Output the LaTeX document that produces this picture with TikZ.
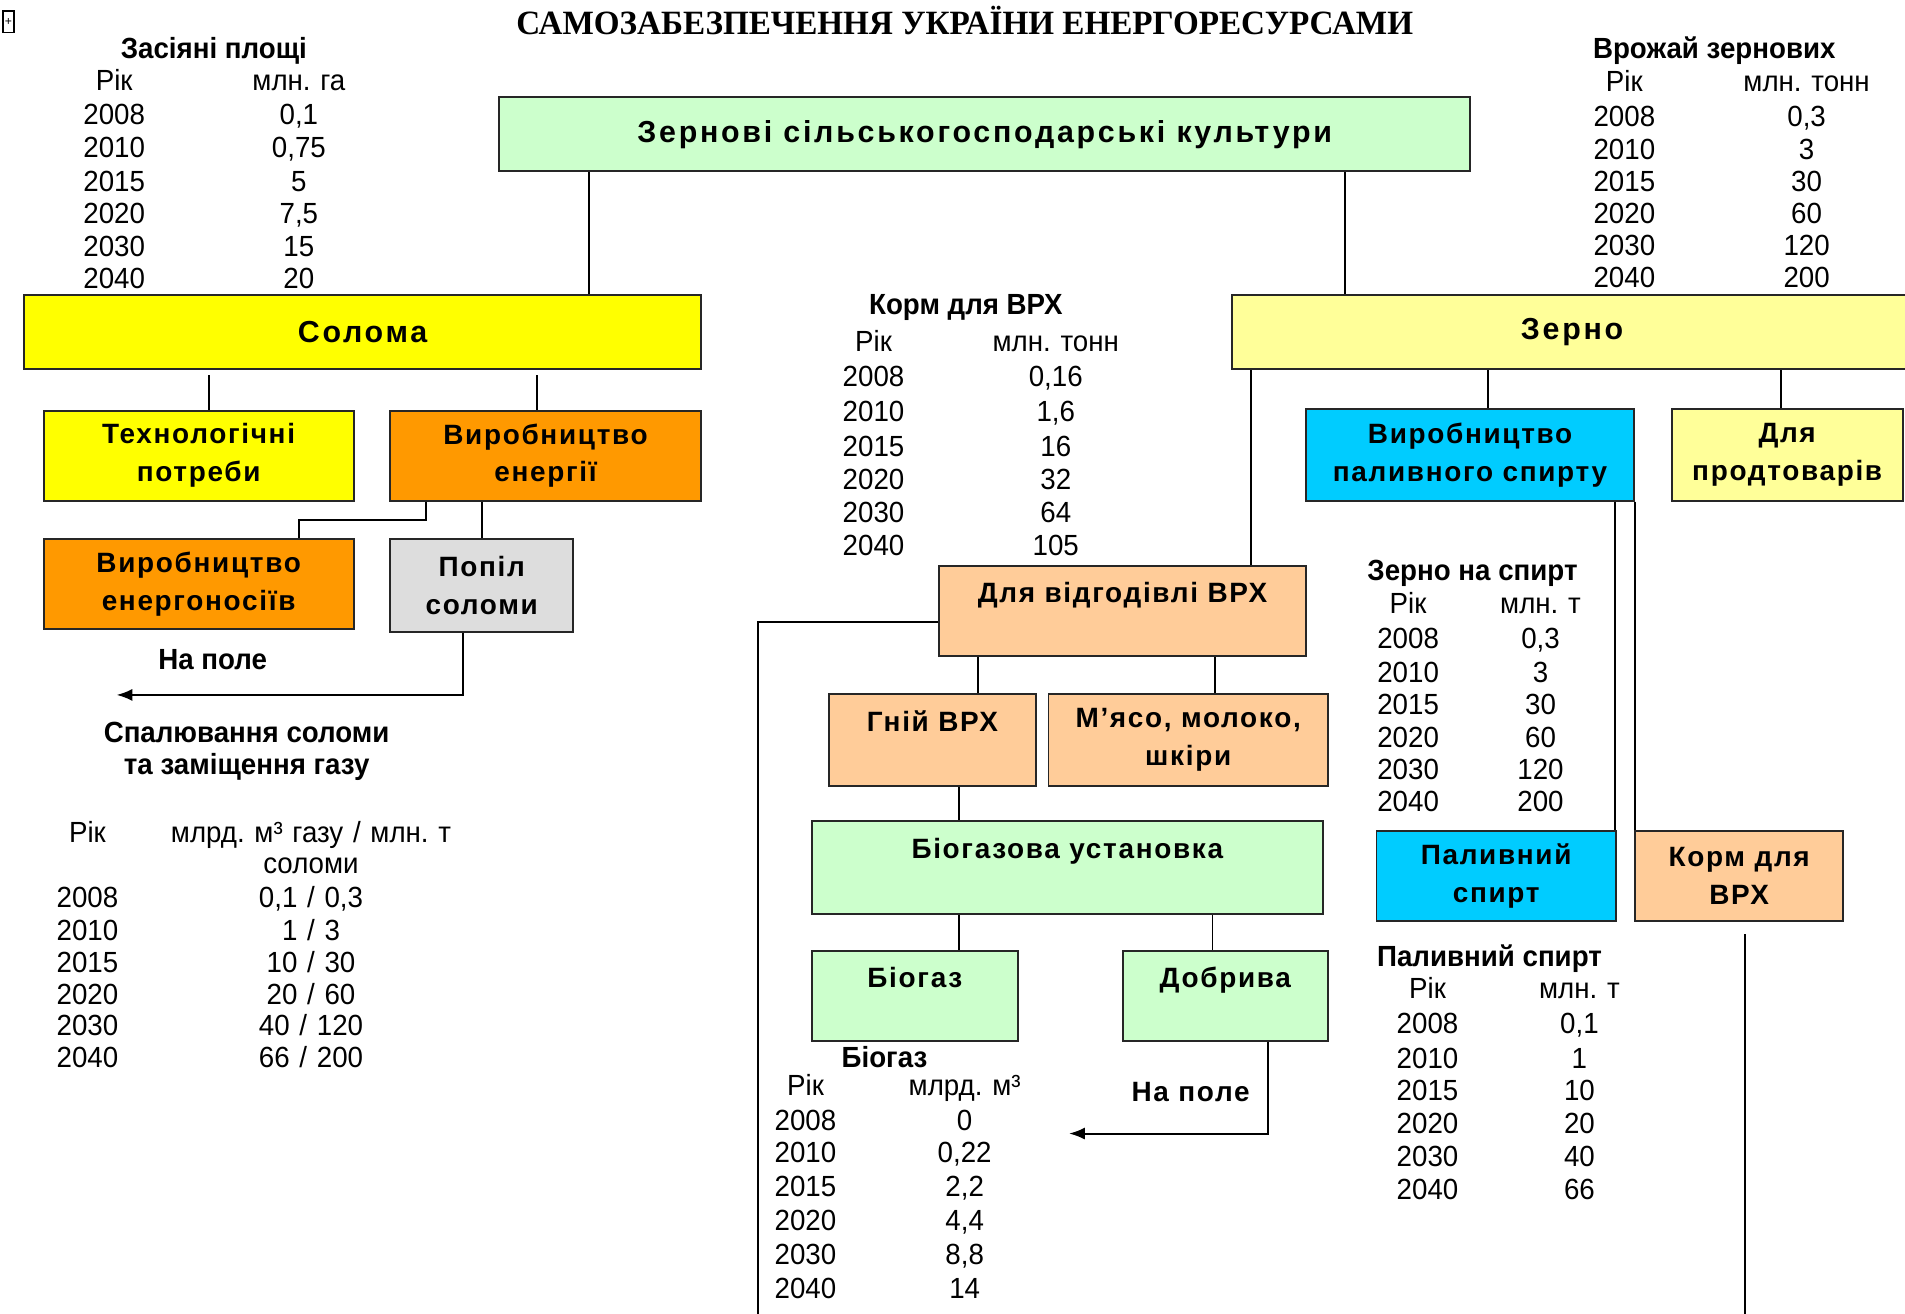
\documentclass[tikz,border=0pt]{standalone}
\usepackage{fontspec}
\setmainfont{Liberation Sans}
\newfontfamily\boxfamily[LetterSpace=6]{Liberation Sans}
\newfontfamily\widefamily[LetterSpace=9]{Liberation Sans}
\newfontfamily\tabfamily[FakeStretch=0.95]{Liberation Sans}
\newfontfamily\titlefamily[FakeStretch=0.975]{Liberation Serif}
\usetikzlibrary{matrix,arrows.meta}

\definecolor{lgreen}{HTML}{CCFFCC}
\definecolor{lyellow}{HTML}{FFFF99}
\definecolor{byellow}{HTML}{FFFF00}
\definecolor{energyorange}{HTML}{FF9900}
\definecolor{peach}{HTML}{FFCC99}
\definecolor{skyblue}{HTML}{00CCFF}
\definecolor{ashgray}{HTML}{DDDDDD}

\tikzset{
  box/.style={draw=black!85, line width=1.6pt, inner sep=0pt, align=center,
    font=\boxfamily\bfseries\fontsize{23}{31}\selectfont},
  widebox/.style={box, font=\widefamily\bfseries\fontsize{25}{31}\selectfont},
  tabcell/.style={inner sep=0pt, text width=100pt, align=center, minimum height=26pt,
    font=\tabfamily\fontsize{24}{26}\selectfont},
  tab/.style={matrix of nodes, nodes={tabcell}, row sep=0pt},
  tabtitle/.style={inner sep=0pt, align=center,
    font=\tabfamily\bfseries\fontsize{24}{27}\selectfont},
  link/.style={line width=1.6pt},
}

\begin{document}
\frenchspacing
\begin{tikzpicture}[x=1pt, y=-1pt, >={Latex[length=13pt,width=10pt]}]
  \fill[white] (0,0) rectangle (1568,1081);
  \useasboundingbox (0,0) rectangle (1568,1081);

  \node[draw, line width=1pt, minimum width=9pt, minimum height=18pt, inner sep=0pt,
    font=\fontsize{10}{10}\selectfont] (icon) at (7,18) {+};
  \node[font=\titlefamily\bfseries\fontsize{28}{32}\selectfont] (title) at (794,17)
    {САМОЗАБЕЗПЕЧЕННЯ УКРАЇНИ ЕНЕРГОРЕСУРСАМИ};

  % boxes
  \node[widebox, fill=lgreen, minimum width=799pt, minimum height=61pt] (crops) at (810.5,110.5)
    {Зернові сільськогосподарські культури};
  \node[widebox, fill=byellow, minimum width=557pt, minimum height=61pt] (straw) at (298.5,273.5) {Солома};
  \node[widebox, fill=lyellow, minimum width=560pt, minimum height=61pt] (grain) at (1294,273.5) {Зерно};

  \node[box, fill=byellow, minimum width=255pt, minimum height=74pt] (tech) at (163.5,375)
    {Технологічні\\потреби};
  \node[box, fill=energyorange, minimum width=256pt, minimum height=74pt] (energy) at (449,375)
    {Виробництво\\енергії};
  \node[box, fill=energyorange, minimum width=255pt, minimum height=74pt] (carriers) at (163.5,481)
    {Виробництво\\енергоносіїв};
  \node[box, fill=ashgray, minimum width=151pt, minimum height=76pt] (ash) at (396.5,482)
    {Попіл\\соломи};

  \node[box, fill=skyblue, minimum width=270pt, minimum height=75pt] (spiritprod) at (1210,374.5)
    {Виробництво\\паливного спирту};
  \node[box, fill=lyellow, minimum width=190pt, minimum height=75pt] (food) at (1471,374.5)
    {Для\\продтоварів};
  \node[box, fill=peach, minimum width=302pt, minimum height=74pt] (fattening) at (924,503)
    {Для відгодівлі ВРХ\\\mbox{}};
  \node[box, fill=peach, minimum width=171pt, minimum height=76pt] (manure) at (767.5,609)
    {Гній ВРХ\\\mbox{}};
  \node[box, fill=peach, minimum width=230pt, minimum height=76pt] (meat) at (978,609)
    {М’ясо, молоко,\\шкіри};
  \node[box, fill=lgreen, minimum width=421pt, minimum height=76pt] (plant) at (878.5,714)
    {Біогазова установка\\\mbox{}};
  \node[box, fill=lgreen, minimum width=170pt, minimum height=74pt] (biogas) at (753,820)
    {Біогаз\\\mbox{}};
  \node[box, fill=lgreen, minimum width=169pt, minimum height=74pt] (fertilizer) at (1008.5,820)
    {Добрива\\\mbox{}};
  \node[box, fill=skyblue, minimum width=197pt, minimum height=74pt] (fuel) at (1231.5,721)
    {Паливний\\спирт};
  \node[box, fill=peach, minimum width=171pt, minimum height=74pt] (feed) at (1431.5,721)
    {Корм для\\ВРХ};

  % drop points
  \coordinate (toStraw) at (485,0);
  \coordinate (toGrain) at (1107,0);
  \coordinate (toTech) at (172,0);
  \coordinate (toEnergy) at (442,0);
  \coordinate (bend) at (351,428);
  \coordinate (toCarriers) at (246,0);
  \coordinate (ashDown) at (381,0);
  \coordinate (field1) at (96,572);
  \coordinate (toFatten) at (1030,0);
  \coordinate (toSpirit) at (1225,0);
  \coordinate (toFood) at (1466,0);
  \coordinate (toFuel) at (1329,0);
  \coordinate (feedDown) at (1436,1090);
  \coordinate (loopDown) at (624,1090);
  \coordinate (toManure) at (805,0);
  \coordinate (toMeat) at (1000,0);
  \coordinate (toPlant) at (789,0);
  \coordinate (toFert) at (998,0);
  \coordinate (fertDown) at (1044,0);
  \coordinate (field2) at (880,933);

  % connectors
  \draw[link] (toStraw |- crops.south) -- (toStraw |- straw.north);
  \draw[link] (toGrain |- crops.south) -- (toGrain |- grain.north);
  \draw[link, shorten <=4pt] (toTech |- straw.south) -- (toTech |- tech.north);
  \draw[link, shorten <=4pt] (toEnergy |- straw.south) -- (toEnergy |- energy.north);
  \draw[link] (bend |- energy.south) -- (bend) -| (toCarriers |- carriers.north);
  \draw[link] (energy.south -| ash.north) -- (ash.north);
  \draw[link, ->] (ashDown |- ash.south) |- (field1);
  \draw[link] (toFatten |- grain.south) -- (toFatten |- fattening.north);
  \draw[link] (toSpirit |- grain.south) -- (toSpirit |- spiritprod.north);
  \draw[link] (toFood |- grain.south) -- (toFood |- food.north);
  \draw[link] (toFuel |- spiritprod.south) -- (toFuel |- fuel.north);
  \draw[link] (spiritprod.south east) -- (spiritprod.south east |- feed.north);
  \draw[link, shorten <=10pt] (feedDown |- feed.south) -- (feedDown);
  \draw[link] ([yshift=-9pt]fattening.west) -| (loopDown);
  \draw[link] (toManure |- fattening.south) -- (toManure |- manure.north);
  \draw[link] (toMeat |- fattening.south) -- (toMeat |- meat.north);
  \draw[link] (toPlant |- manure.south) -- (toPlant |- plant.north);
  \draw[link] (toPlant |- plant.south) -- (toPlant |- biogas.north);
  \draw[link] (toFert |- plant.south) -- (toFert |- fertilizer.north);
  \draw[link, ->] (fertDown |- fertilizer.south) |- (field2);

  \node[tabtitle] (fieldA) at (175,543) {На поле};
  \node[font=\boxfamily\bfseries\fontsize{23}{31}\selectfont] (fieldB) at (980,899) {На поле};

  % tables
  \node[tabtitle] (sownT) at (176,42) {Засіяні площі};
  \matrix (sown) [tab, column sep=52pt, nodes={minimum height=26.2pt}] at (170,147.5) {
    Рік & млн. га \\
    2008 & 0,1 \\
    2010 & 0,75 \\
    2015 & 5 \\
    2020 & 7,5 \\
    2030 & 15 \\
    2040 & 20 \\
  };

  \node[tabtitle] (yieldT) at (1411,42) {Врожай зернових};
  \matrix (yield) [tab, column sep=30pt, nodes={minimum height=26.2pt, text width=120pt}] at (1412,147.5) {
    Рік & млн. тонн \\
    2008 & 0,3 \\
    2010 & 3 \\
    2015 & 30 \\
    2020 & 60 \\
    2030 & 120 \\
    2040 & 200 \\
  };

  \node[tabtitle] (cattleT) at (795,253) {Корм для ВРХ};
  \matrix (cattle) [tab, column sep=30pt, nodes={minimum height=27.17pt, text width=120pt}] at (794,364.5) {
    Рік & млн. тонн \\
    2008 & 0,16 \\
    2010 & 1,6 \\
    2015 & 16 \\
    2020 & 32 \\
    2030 & 64 \\
    2040 & 105 \\
  };

  \node[tabtitle] (grainspT) at (1212,472) {Зерно на спирт};
  \matrix (grainsp) [tab, column sep=29pt, nodes={minimum height=26.67pt, text width=80pt}] at (1213.5,578) {
    Рік & млн. т \\
    2008 & 0,3 \\
    2010 & 3 \\
    2015 & 30 \\
    2020 & 60 \\
    2030 & 120 \\
    2040 & 200 \\
  };

  \node[tabtitle] (fuelT) at (1226,789) {Паливний спирт};
  \matrix (fueltab) [tab, column sep=35pt, nodes={minimum height=27pt, text width=90pt}] at (1237.5,896) {
    Рік & млн. т \\
    2008 & 0,1 \\
    2010 & 1 \\
    2015 & 10 \\
    2020 & 20 \\
    2030 & 40 \\
    2040 & 66 \\
  };

  \node[tabtitle] (biogasT) at (728,870) {Біогаз};
  \matrix (biogastab) [tab, column sep=31pt, nodes={minimum height=26.5pt}] at (728.5,976.5) {
    Рік & млрд. м³ \\
    2008 & 0 \\
    2010 & 0,22 \\
    2015 & 2,2 \\
    2020 & 4,4 \\
    2030 & 8,8 \\
    2040 & 14 \\
  };

  \node[tabtitle] (burnT) at (203,618.5) {Спалювання соломи\\та заміщення газу};
  \matrix (burn) [tab, column sep=14pt, nodes={minimum height=25.86pt},
    column 2/.style={nodes={text width=240pt}}] at (199,777.5) {
    Рік & млрд. м³ газу / млн. т \\
        & соломи \\
    2008 & 0,1 / 0,3 \\
    2010 & 1 / 3 \\
    2015 & 10 / 30 \\
    2020 & 20 / 60 \\
    2030 & 40 / 120 \\
    2040 & 66 / 200 \\
  };
\end{tikzpicture}
\end{document}
